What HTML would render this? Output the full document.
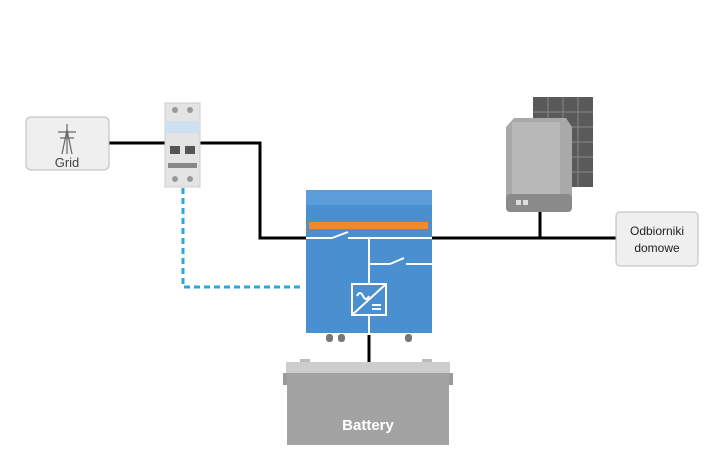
<!DOCTYPE html>
<html><head><style>body{margin:0;background:#fff}svg{display:block}</style></head><body>
<svg width="720" height="450" viewBox="0 0 720 450" xmlns="http://www.w3.org/2000/svg" font-family="Liberation Sans, sans-serif">
<!-- lines -->
<polyline points="109,143 165,143" stroke="#000" stroke-width="3" fill="none"/>
<polyline points="200,143 260,143 260,238 306,238" stroke="#000" stroke-width="3" fill="none"/>
<polyline points="432,238 616,238" stroke="#000" stroke-width="3" fill="none"/>
<line x1="540" y1="210" x2="540" y2="238" stroke="#000" stroke-width="3"/>
<polyline points="183,188 183,287 303,287" stroke="#2aa8dc" stroke-width="3" stroke-dasharray="6,4" fill="none"/>
<!-- grid box -->
<rect x="26" y="117" width="83" height="53" rx="5" fill="#efefef" stroke="#bbb"/>
<g stroke="#666" stroke-width="1.2" fill="none">
<line x1="67" y1="124" x2="67" y2="154"/><line x1="62" y1="154" x2="67" y2="130"/><line x1="72" y1="154" x2="67" y2="130"/>
<line x1="58" y1="132" x2="76" y2="132"/><line x1="60" y1="138" x2="74" y2="138"/>
</g>
<text x="67" y="167" font-size="13" fill="#444" text-anchor="middle">Grid</text>
<!-- breaker -->
<rect x="165" y="103" width="35" height="84" fill="#e4e4e4" stroke="#ccc"/>
<rect x="165" y="121" width="35" height="12" fill="#cfe0f0"/>
<rect x="170" y="146" width="10" height="8" fill="#555"/><rect x="185" y="146" width="10" height="8" fill="#555"/>
<circle cx="175" cy="110" r="3" fill="#999"/><circle cx="190" cy="110" r="3" fill="#999"/>
<circle cx="175" cy="179" r="3" fill="#999"/><circle cx="190" cy="179" r="3" fill="#999"/>
<rect x="168" y="163" width="29" height="5" fill="#888"/>
<!-- inverter -->
<rect x="306" y="190" width="126" height="143" fill="#4a8fd0"/>
<rect x="306" y="190" width="126" height="15" fill="#5b9ddb"/>
<rect x="309" y="222" width="119" height="7" fill="#f08a28"/>
<g stroke="#fff" stroke-width="2" fill="none">
<line x1="306" y1="238" x2="332" y2="238"/><line x1="332" y1="238" x2="348" y2="232"/><line x1="348" y1="238" x2="432" y2="238"/>
<line x1="369" y1="238" x2="369" y2="284"/>
<line x1="369" y1="264" x2="390" y2="264"/><line x1="390" y1="264" x2="404" y2="258"/><line x1="406" y1="264" x2="432" y2="264"/>
<rect x="352" y="284" width="34" height="31"/><line x1="352" y1="315" x2="386" y2="284"/>
<line x1="369" y1="315" x2="369" y2="333"/>
<path d="M357,296 q3,-6 6,0 t6,0"/><line x1="372" y1="305" x2="381" y2="305"/><line x1="372" y1="309" x2="381" y2="309"/>
<polyline points="310,334 310,346 318,346"/><polyline points="428,334 428,346 420,346"/>
</g>
<rect x="306" y="333" width="126" height="2" fill="#fff"/>
<g fill="#777"><rect x="326" y="334" width="7" height="8" rx="3"/><rect x="338" y="334" width="7" height="8" rx="3"/><rect x="405" y="334" width="7" height="8" rx="3"/></g>
<line x1="369" y1="335" x2="369" y2="362" stroke="#000" stroke-width="3"/>
<!-- battery -->
<rect x="300" y="359" width="10" height="5" fill="#bbb"/><rect x="422" y="359" width="10" height="5" fill="#bbb"/>
<rect x="286" y="362" width="164" height="11" fill="#cdcdcd"/>
<rect x="283" y="373" width="170" height="12" fill="#9a9a9a"/>
<rect x="287" y="373" width="162" height="72" fill="#a3a3a3"/>
<text x="368" y="430" font-size="15" font-weight="bold" fill="#fff" text-anchor="middle">Battery</text>
<!-- solar -->
<rect x="533" y="97" width="60" height="90" fill="#5a5a5a"/>
<g stroke="#888" stroke-width="1">
<line x1="548" y1="97" x2="548" y2="187"/><line x1="563" y1="97" x2="563" y2="187"/><line x1="578" y1="97" x2="578" y2="187"/>
<line x1="533" y1="112" x2="593" y2="112"/><line x1="533" y1="127" x2="593" y2="127"/><line x1="533" y1="142" x2="593" y2="142"/><line x1="533" y1="157" x2="593" y2="157"/><line x1="533" y1="172" x2="593" y2="172"/>
</g>
<path d="M514,118 L566,118 L572,127 L572,204 Q572,212 564,212 L514,212 Q506,212 506,204 L506,127 Z" fill="#a9a9a9"/>
<rect x="512" y="122" width="48" height="72" fill="#b8b8b8"/>
<rect x="506" y="194" width="66" height="18" fill="#8a8a8a" rx="4"/>
<rect x="516" y="200" width="5" height="5" fill="#ddd"/><rect x="523" y="200" width="5" height="5" fill="#ddd"/>
<!-- odbiorniki -->
<rect x="616" y="212" width="82" height="54" rx="4" fill="#efefef" stroke="#bbb"/>
<text x="657" y="235" font-size="12" fill="#222" text-anchor="middle">Odbiorniki</text>
<text x="657" y="252" font-size="12" fill="#222" text-anchor="middle">domowe</text>
</svg>
</body></html>
